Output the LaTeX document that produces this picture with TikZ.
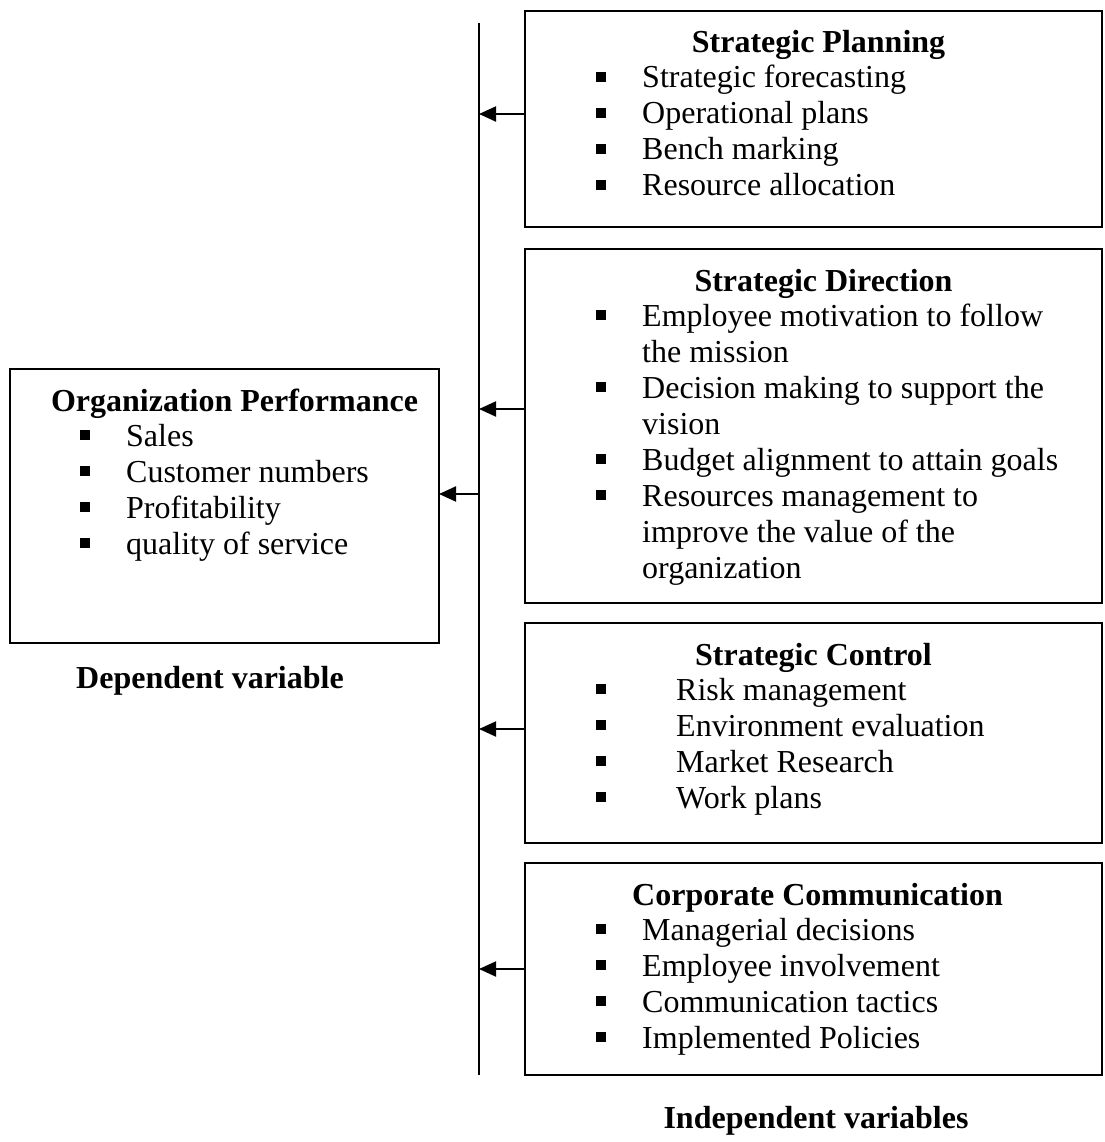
\documentclass[tikz,border=0pt]{standalone}
\usepackage{fontspec}
\setmainfont{Liberation Serif}
\usetikzlibrary{positioning,arrows.meta}

% square bullets and list lines
\newcommand{\sqbullet}{\rule[0.2em]{0.3em}{0.3em}}
\newcommand{\bline}[1]{\makebox[46pt][l]{\sqbullet}#1}
\newcommand{\wline}[1]{\makebox[80pt][l]{\sqbullet}#1}
\newcommand{\nline}[1]{\hspace*{46pt}#1}

\tikzset{
  varbox/.style={draw, line width=2.8pt, anchor=north west, inner sep=0pt, outer sep=0pt},
  head/.style={font=\fontsize{32}{36}\selectfont\bfseries, anchor=base, inner sep=0pt},
  % base anchor of a list sits on its last line
  items/.style={font=\fontsize{32}{36}\selectfont, align=left, anchor=base west, inner sep=0pt},
  spine/.style={line width=2pt},
  link/.style={line width=2pt, -{Triangle[length=17pt,width=15pt]}}
}

\begin{document}
\begin{tikzpicture}[x=1pt, y=-1pt]
\useasboundingbox (0,0) rectangle (1104,1142);

% independent variables
\node[varbox, minimum width=577pt, minimum height=216pt] (plan) at (525,11) {};
\node[varbox, minimum width=577pt, minimum height=354pt, below=22pt of plan] (direct) {};
\node[varbox, minimum width=577pt, minimum height=220pt, below=20pt of direct] (control) {};
\node[varbox, minimum width=577pt, minimum height=212pt, below=20pt of control] (comm) {};

% dependent variable
\node[varbox, minimum width=429pt, minimum height=274pt] (perf) at (10,369) {};

% box contents
\node[head] (planT) at ([xshift=5pt,yshift=-42pt]plan.north) {Strategic Planning};
\node[items] (planL) at ([xshift=71pt,yshift=-185pt]plan.north west)
  {\bline{Strategic forecasting}\\ \bline{Operational plans}\\
   \bline{Bench marking}\\ \bline{Resource allocation}};

\node[head] (directT) at ([xshift=10pt,yshift=-42pt]direct.north) {Strategic Direction};
\node[items] (directL) at ([xshift=71pt,yshift=-329pt]direct.north west)
  {\bline{Employee motivation to follow}\\ \nline{the mission}\\
   \bline{Decision making to support the}\\ \nline{vision}\\
   \bline{Budget alignment to attain goals}\\
   \bline{Resources management to}\\ \nline{improve the value of the}\\
   \nline{organization}};

\node[head] (controlT) at ([xshift=0pt,yshift=-42pt]control.north) {Strategic Control};
\node[items] (controlL) at ([xshift=71pt,yshift=-185pt]control.north west)
  {\wline{Risk management}\\ \wline{Environment evaluation}\\
   \wline{Market Research}\\ \wline{Work plans}};

\node[head] (commT) at ([xshift=4pt,yshift=-42pt]comm.north) {Corporate Communication};
\node[items] (commL) at ([xshift=71pt,yshift=-185pt]comm.north west)
  {\bline{Managerial decisions}\\ \bline{Employee involvement}\\
   \bline{Communication tactics}\\ \bline{Implemented Policies}};

\node[head] (perfT) at ([xshift=10pt,yshift=-42pt]perf.north) {Organization Performance};
\node[items] (perfL) at ([xshift=70pt,yshift=-185pt]perf.north west)
  {\bline{Sales}\\ \bline{Customer numbers}\\
   \bline{Profitability}\\ \bline{quality of service}};

% captions
\node[head] (dep) at (210,688) {Dependent variable};
\node[head] (indep) at (816,1128) {Independent variables};

% vertical bar collecting the arrows
\coordinate (spineTop) at (479,23);
\coordinate (spineBot) at (479,1075);
\draw[spine] (spineTop) -- (spineBot);

\coordinate (planA) at ([yshift=5pt]plan.west);
\coordinate (directA) at ([yshift=17pt]direct.west);
\coordinate (controlA) at ([yshift=4pt]control.west);
\coordinate (commA) at (comm.west);
\coordinate (perfA) at ([yshift=12pt]perf.east);

\draw[link] (planA) -- (planA -| spineTop);
\draw[link] (directA) -- (directA -| spineTop);
\draw[link] (controlA) -- (controlA -| spineTop);
\draw[link] (commA) -- (commA -| spineTop);
\draw[link] (perfA -| spineTop) -- (perfA);
\end{tikzpicture}
\end{document}
